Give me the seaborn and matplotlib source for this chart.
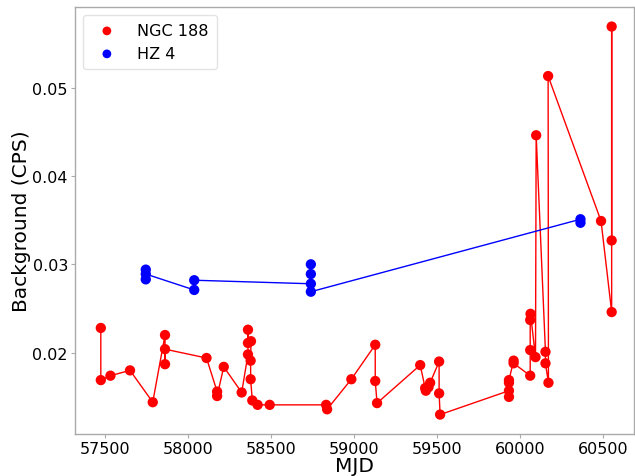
import matplotlib
matplotlib.use("Agg")
import matplotlib.pyplot as plt
import seaborn as sns
import pandas as pd

ngc_mjd = [57474, 57474, 57532, 57650, 57787, 57861, 57861, 57861, 58111, 58175,
           58175, 58215, 58323, 58361, 58361, 58361, 58379, 58377, 58377, 58387,
           58419, 58492, 58832, 58838, 58984, 59128, 59128, 59139, 59399, 59429,
           59433, 59449, 59459, 59513, 59513, 59519, 59934, 59934, 59934, 59934,
           59962, 59962, 60062, 60062, 60062, 60064, 60094, 60098, 60154, 60154,
           60172, 60170, 60489, 60553, 60553, 60553]
ngc_bg = [0.0228, 0.0169, 0.0174, 0.0180, 0.0144, 0.0220, 0.0187, 0.0204, 0.0194, 0.0156,
          0.0151, 0.0184, 0.0155, 0.0198, 0.0226, 0.0211, 0.0213, 0.0191, 0.0170, 0.0146,
          0.0141, 0.0141, 0.0141, 0.0136, 0.0170, 0.0209, 0.0168, 0.0143, 0.0186, 0.0160,
          0.0157, 0.0161, 0.0166, 0.0190, 0.0154, 0.0130, 0.0157, 0.0150, 0.0166, 0.0169,
          0.0191, 0.0188, 0.0174, 0.0203, 0.0237, 0.0244, 0.0195, 0.0446, 0.0201, 0.0188,
          0.0166, 0.0513, 0.0349, 0.0246, 0.0569, 0.0327]

hz_mjd = [57745, 57745, 57745, 58037, 58037, 58740, 58740, 58740, 58740, 60365, 60365]
hz_bg = [0.0283, 0.0294, 0.0289, 0.0271, 0.0282, 0.0278, 0.0300, 0.0289, 0.0269, 0.0351, 0.0347]

ngc = pd.DataFrame({"MJD": ngc_mjd, "bg": ngc_bg})
hz = pd.DataFrame({"MJD": hz_mjd, "bg": hz_bg})

sns.set_style("white")
plt.rcParams['font.family'] = ['DejaVu Sans']
plt.rcParams['text.color'] = 'black'
plt.rcParams['axes.labelcolor'] = 'black'
plt.rcParams['xtick.color'] = 'black'
plt.rcParams['ytick.color'] = 'black'

fig, ax = plt.subplots(figsize=(6.35, 4.77), dpi=100)
sns.scatterplot(data=ngc, x="MJD", y="bg", color="red", s=55, edgecolor="none",
                label="NGC 188", ax=ax, zorder=3)
sns.scatterplot(data=hz, x="MJD", y="bg", color="blue", s=55, edgecolor="none",
                label="HZ 4", ax=ax, zorder=3)
sns.lineplot(data=ngc, x="MJD", y="bg", sort=False, estimator=None, color="red",
             lw=1.0, ax=ax, legend=False)
sns.lineplot(data=hz, x="MJD", y="bg", sort=False, estimator=None, color="blue",
             lw=1.0, ax=ax, legend=False)

ax.set_xlim(57318, 60686)
ax.set_ylim(0.0108, 0.0591)
ax.set_xticks([57500, 58000, 58500, 59000, 59500, 60000, 60500])
ax.set_yticks([0.02, 0.03, 0.04, 0.05])
ax.set_xlabel("MJD", fontsize=14.5, labelpad=0)
ax.set_ylabel("Background (CPS)", fontsize=14.5, labelpad=1)
ax.tick_params(axis="both", labelsize=11.5, length=3, width=0.8, color="#aaaaaa",
               labelcolor="black", bottom=True, left=True, pad=2)
for sp in ax.spines.values():
    sp.set_color("#aaaaaa")
    sp.set_linewidth(1.0)

leg = ax.legend(loc="upper left", fontsize=11.5, markerscale=0.85, handletextpad=0.9,
                borderpad=0.5, frameon=True)
leg.get_frame().set_edgecolor("#dddddd")

fig.subplots_adjust(left=0.118, right=0.998, top=0.983, bottom=0.088)
fig.savefig("out.png", dpi=100)
